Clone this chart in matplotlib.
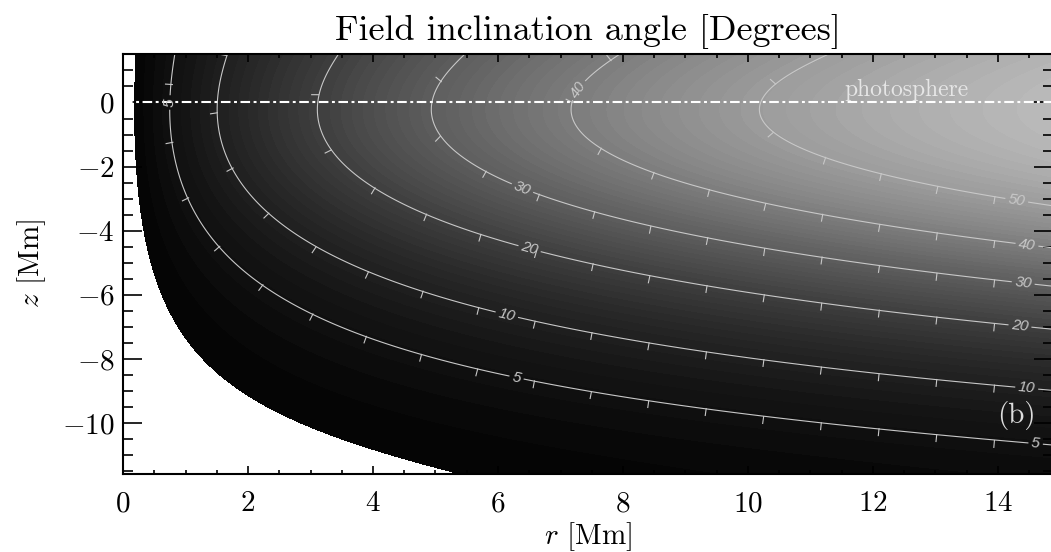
import numpy as np
import matplotlib
matplotlib.use('Agg')
import matplotlib.pyplot as plt
from matplotlib.collections import LineCollection
from matplotlib.colors import LinearSegmentedColormap, Normalize
from matplotlib.ticker import MultipleLocator

plt.rcParams['font.family'] = 'cmr10'
plt.rcParams['mathtext.fontset'] = 'cm'
plt.rcParams['axes.formatter.use_mathtext'] = True

# tan(inclination) / r versus height z (1/Mm)
z_knots = [1.5, 0.75, 0.0, -1.0, -2.0, -3.0, -4.0, -5.0, -6.0, -7.0,
           -8.0, -9.0, -10.0, -11.0, -11.6]
tan_per_mm = [0.1055, 0.1135, 0.1162, 0.1134, 0.1030, 0.0840, 0.0655, 0.0490,
              0.0355, 0.0251, 0.0175, 0.0117, 0.0078, 0.0052, 0.0041]

line_levels = [5, 10, 20, 30, 40, 50]
theta_cut = 1.28     # blank below this angle
theta_bright = 60.0  # angle that gets the lightest grey

# (r, z) spots where the contour labels sit
label_r = [14.30, 14.46, 7.28, 14.40, 6.40, 14.35, 6.50, 14.46, 6.14, 14.60, 6.30, 0.77]
label_z = [-3.05, -4.50, 0.39, -5.69, -2.63, -7.00, -4.60, -8.90, -6.63, -10.69, -8.55, 0.0]

coef = np.polyfit(z_knots, np.log(tan_per_mm), 6)


def inclination(r, z):
    return np.degrees(np.arctan(r * np.exp(np.polyval(coef, z))))


def downhill_ticks(ax, cs, spacing=58.0, first=60.0, length=8.0):
    to_px = ax.transData
    to_data = ax.transData.inverted()
    segs = []
    for path in cs.get_paths():
        for poly in path.to_polygons(closed_only=False):
            if len(poly) < 3:
                continue
            px = to_px.transform(poly)
            if px[0, 0] < px[-1, 0]:
                px = px[::-1]
            d = np.hypot(*np.diff(px, axis=0).T)
            s = np.concatenate([[0.0], np.cumsum(d)])
            for sk in np.arange(first, s[-1], spacing):
                i = int(np.clip(np.searchsorted(s, sk) - 1, 0, len(d) - 1))
                if d[i] == 0:
                    continue
                f = (sk - s[i]) / d[i]
                p = px[i] + f * (px[i + 1] - px[i])
                t = (px[i + 1] - px[i]) / d[i]
                n = np.array([-t[1], t[0]])
                a = to_data.transform([p + 3 * n, p - 3 * n])
                if inclination(*a[0]) > inclination(*a[1]):
                    n = -n
                segs.append(to_data.transform([p, p + length * n]))
    ax.add_collection(LineCollection(segs, colors='#c8c8c8', linewidths=0.8))


r = np.linspace(0, 14.9, 800)
z = np.linspace(-11.65, 1.55, 500)
R, Z = np.meshgrid(r, z)
T = inclination(R, Z)

fig = plt.figure(figsize=(10.51, 5.52), dpi=100)
ax = fig.add_axes([123 / 1051, 1 - 474 / 552, (1053 - 123) / 1051, (474 - 54) / 552])
ax.set_xlim(0, 14.88)
ax.set_ylim(-11.59, 1.513)

cmap = LinearSegmentedColormap.from_list('incl', ['#000000', '#bababa'])
fill_levels = np.linspace(theta_cut, T.max(), 60)
cf = ax.contourf(R, Z, T, levels=fill_levels, cmap=cmap,
                 norm=Normalize(0, theta_bright))
cf.set_edgecolor('face')
cf.set_linewidth(0.4)

cs = ax.contour(R, Z, T, levels=line_levels, colors='#c8c8c8', linewidths=0.8)
downhill_ticks(ax, cs)
with plt.rc_context({'font.family': 'Liberation Sans', 'font.style': 'italic'}):
    ax.clabel(cs, manual=list(zip(label_r, label_z)), inline=True,
              fmt='%d', fontsize=11, colors='#c8c8c8', inline_spacing=3)

ax.axhline(0, color='white', lw=1.5, dashes=(4.6, 1.7, 1.4, 1.7))
ax.text(12.54, 0.2, 'photosphere', color='#e6e6e6', fontsize=17,
        ha='center', va='baseline')
ax.text(14.29, -9.75, '(b)', color='#dcdcdc', fontsize=21, ha='center', va='center')

ax.xaxis.set_major_locator(MultipleLocator(2))
ax.xaxis.set_minor_locator(MultipleLocator(0.5))
ax.yaxis.set_major_locator(MultipleLocator(2))
ax.yaxis.set_minor_locator(MultipleLocator(0.5))
ax.tick_params(which='both', direction='in', top=True, right=True, width=1.2)
ax.tick_params(axis='x', which='major', length=6, pad=12, labelsize=21)
ax.tick_params(axis='x', which='minor', length=3)
ax.tick_params(axis='y', which='major', length=14, pad=6, labelsize=21)
ax.tick_params(axis='y', which='minor', length=7)
for sp in ax.spines.values():
    sp.set_linewidth(1.5)

ax.set_xlabel('$r$ [Mm]', fontsize=21, labelpad=2)
ax.set_ylabel('$z$ [Mm]', fontsize=21, labelpad=10)
ax.set_title('Field inclination angle [Degrees]', fontsize=26, pad=10)

fig.savefig('out.png', dpi=100)
